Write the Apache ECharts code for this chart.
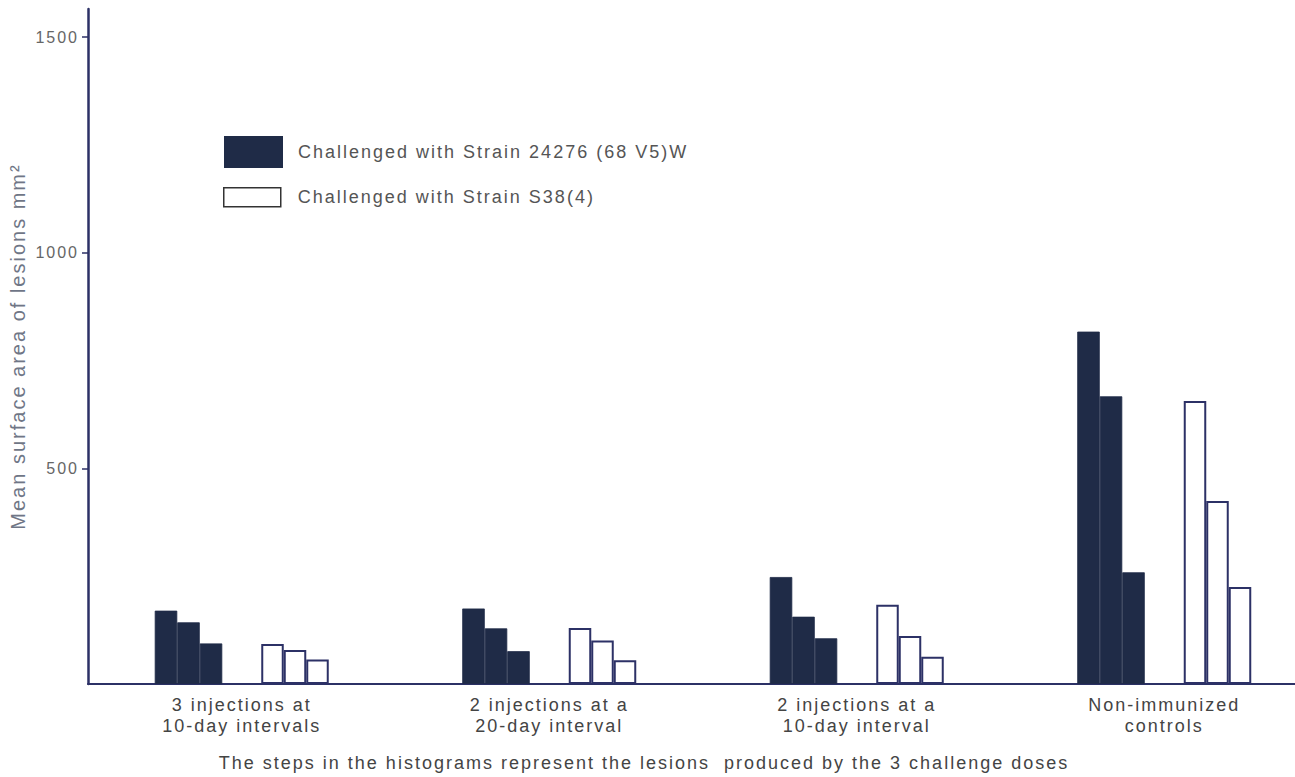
<!DOCTYPE html>
<html>
<head>
<meta charset="utf-8">
<script src="https://cdn.jsdelivr.net/npm/echarts@6/dist/echarts.min.js"></script>
<style>
html,body{margin:0;padding:0;background:#fff;}
#chart{width:1295px;height:777px;}
#chart svg text{letter-spacing:2px;}
</style>
</head>
<body>
<div id="chart"></div>
<script>
// ---- data ----
const categories = [
  '3 injections at\n10-day intervals',
  '2 injections at a\n20-day interval',
  '2 injections at a\n10-day interval',
  'Non-immunized\ncontrols'
];
// Strain 24276 (68 V5)W, three challenge doses
const strainW_dose1 = [170, 175, 248, 817];
const strainW_dose2 = [143, 129, 156, 667];
const strainW_dose3 = [94, 76, 106, 259];
// Strain S38(4), three challenge doses
const strainS_dose1 = [93, 130, 184, 656];
const strainS_dose2 = [79, 101, 111, 424];
const strainS_dose3 = [57, 55, 63, 225];
const yTicks = [500, 1000, 1500];
const nameW = 'Challenged with Strain 24276 (68 V5)W';
const nameS = 'Challenged with Strain S38(4)';
const footnote = 'The steps in the histograms represent the lesions  produced by the 3 challenge doses';

// ---- styles ----
const NAVY = '#2c3166';
const DARK = '#1f2b47';
const FONT = '"Liberation Sans", Arial, sans-serif';
const BW = 22.5;

function darkSeries(data) {
  return { type: 'bar', name: nameW, data: data, barWidth: BW, barGap: '0%',
    itemStyle: { color: DARK, borderColor: DARK, borderWidth: 0.8 }, emphasis: { disabled: true } };
}
function whiteSeries(data) {
  return { type: 'bar', name: nameS, data: data, barWidth: BW, barGap: '0%',
    itemStyle: { color: '#ffffff', borderColor: NAVY, borderWidth: 2 }, emphasis: { disabled: true } };
}

const chart = echarts.init(document.getElementById('chart'), null, { renderer: 'svg' });
chart.setOption({
  animation: false,
  backgroundColor: '#ffffff',
  textStyle: { fontFamily: FONT },
  grid: { left: 88, width: 1230, top: 9, bottom: 93, containLabel: false, outerBoundsMode: 'none' },
  title: {
    text: footnote,
    left: 644, top: 754, textAlign: 'center', padding: 0,
    textStyle: { fontFamily: FONT, fontSize: 18, fontWeight: 'normal', color: '#444' }
  },
  legend: [
    {
      data: [nameW], left: 224, top: 136, orient: 'vertical', padding: 0,
      itemWidth: 57, itemHeight: 30,
      icon: 'rect',
      textStyle: { fontFamily: FONT, fontSize: 18, color: '#555', padding: [0, 0, 0, 11] },
      selectedMode: false
    },
    {
      data: [nameS], left: 223, top: 187, orient: 'vertical', padding: 0,
      itemWidth: 57, itemHeight: 19,
      icon: 'rect',
      itemStyle: { borderColor: '#333', borderWidth: 1.5 },
      textStyle: { fontFamily: FONT, fontSize: 18, color: '#555', padding: [0, 0, 0, 12] },
      selectedMode: false
    }
  ],
  xAxis: {
    type: 'category',
    data: categories,
    axisLine: { show: true, lineStyle: { color: NAVY, width: 2 } },
    axisTick: { show: false },
    axisLabel: { fontFamily: FONT, fontSize: 18, color: '#444', lineHeight: 21, margin: 10, interval: 0 }
  },
  yAxis: {
    type: 'value',
    min: 0, max: 1565,
    name: 'Mean surface area of lesions mm²',
    nameLocation: 'middle', nameGap: 60, nameRotate: 90,
    nameTextStyle: { fontFamily: FONT, fontSize: 20, color: '#6f7686' },
    axisLine: { show: true, lineStyle: { color: NAVY, width: 2.5 } },
    axisTick: { show: true, inside: false, length: 6, lineStyle: { color: NAVY, width: 1.5 }, customValues: yTicks },
    axisLabel: { fontFamily: FONT, fontSize: 16, color: '#666', margin: 9, customValues: yTicks,
      formatter: function (v) { return String(v); } },
    splitLine: { show: false }
  },
  series: [
    darkSeries(strainW_dose1),
    darkSeries(strainW_dose2),
    darkSeries(strainW_dose3),
    { type: 'bar', name: 'spacer', data: categories.map(() => '-'), barWidth: 39, barGap: '0%', itemStyle: { opacity: 0 }, silent: true },
    whiteSeries(strainS_dose1),
    whiteSeries(strainS_dose2),
    whiteSeries(strainS_dose3)
  ]
});
</script>
</body>
</html>
